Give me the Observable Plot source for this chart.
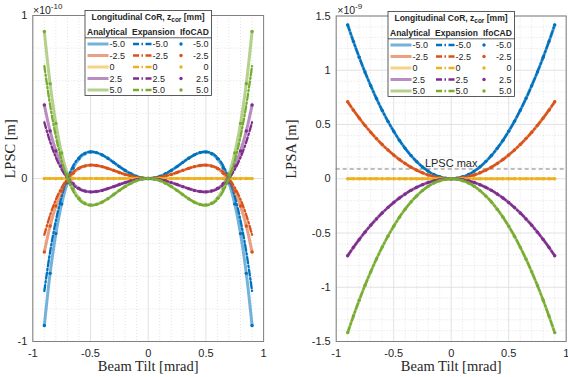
<!DOCTYPE html>
<html><head><meta charset="utf-8">
<script src="https://cdn.jsdelivr.net/npm/d3@7"></script>
<script src="https://cdn.jsdelivr.net/npm/@observablehq/plot@0.6"></script>
<style>
html,body{margin:0;padding:0;background:#fff;}
#wrap{position:relative;width:568px;height:377px;overflow:hidden;}
#wrap svg{position:absolute;top:0;overflow:visible;}
</style></head><body><div id="wrap"></div>
<script>
// Beam tilt [mrad]
const tilt = [-0.9,-0.85,-0.8,-0.75,-0.7,-0.65,-0.6,-0.55,-0.5,-0.45,-0.4,-0.35,-0.3,-0.25,-0.2,-0.15,-0.1,-0.05,0,0.05,0.1,0.15,0.2,0.25,0.3,0.35,0.4,0.45,0.5,0.55,0.6,0.65,0.7,0.75,0.8,0.85,0.9];
const zLabels = ["-5.0","-2.5","0","2.5","5.0"];
const zColors = ["#0072BD","#D95319","#EDB120","#7E2F8E","#77AC30"];
const xMajor = [-1,-0.5,0,0.5,1];
const xMinor = [-0.9,-0.8,-0.7,-0.6,-0.4,-0.3,-0.2,-0.1,0.1,0.2,0.3,0.4,0.6,0.7,0.8,0.9];
const lpscYMajor = [-1,0,1];
const lpscYMinor = [-0.8,-0.6,-0.4,-0.2,0.2,0.4,0.6,0.8];
const lpsaYMajor = [-1.5,-1,-0.5,0,0.5,1,1.5];
const lpsaYMinor = [-1.4,-1.3,-1.2,-1.1,-0.9,-0.8,-0.7,-0.6,-0.4,-0.3,-0.2,-0.1,0.1,0.2,0.3,0.4,0.6,0.7,0.8,0.9,1.1,1.2,1.3,1.4];
const lpscMax = 0.09; // in 1e-9 m

// LPSC [1e-10 m], analytical
const lpscAna_m50 = [-0.902,-0.582,-0.338,-0.156,-0.026,0.064,0.121,0.152,0.163,0.159,0.145,0.124,0.099,0.073,0.049,0.029,0.013,0.003,0,0.003,0.013,0.029,0.049,0.073,0.099,0.124,0.145,0.159,0.163,0.152,0.121,0.064,-0.026,-0.156,-0.338,-0.582,-0.902];
const lpscAna_m25 = [-0.451,-0.291,-0.169,-0.078,-0.013,0.032,0.061,0.076,0.082,0.080,0.073,0.062,0.050,0.037,0.025,0.015,0.007,0.002,0,0.002,0.007,0.015,0.025,0.037,0.050,0.062,0.073,0.080,0.082,0.076,0.061,0.032,-0.013,-0.078,-0.169,-0.291,-0.451];
const lpscAna_0 = [0,0,0,0,0,0,0,0,0,0,0,0,0,0,0,0,0,0,0,0,0,0,0,0,0,0,0,0,0,0,0,0,0,0,0,0,0];
const lpscAna_p25 = [0.451,0.291,0.169,0.078,0.013,-0.032,-0.061,-0.076,-0.082,-0.080,-0.073,-0.062,-0.050,-0.037,-0.025,-0.015,-0.007,-0.002,0,-0.002,-0.007,-0.015,-0.025,-0.037,-0.050,-0.062,-0.073,-0.080,-0.082,-0.076,-0.061,-0.032,0.013,0.078,0.169,0.291,0.451];
const lpscAna_p50 = [0.902,0.582,0.338,0.156,0.026,-0.064,-0.121,-0.152,-0.163,-0.159,-0.145,-0.124,-0.099,-0.073,-0.049,-0.029,-0.013,-0.003,0,-0.003,-0.013,-0.029,-0.049,-0.073,-0.099,-0.124,-0.145,-0.159,-0.163,-0.152,-0.121,-0.064,0.026,0.156,0.338,0.582,0.902];
// LPSC [1e-10 m], expansion
const lpscExp_m50 = [-0.690,-0.450,-0.258,-0.110,0,0.078,0.129,0.156,0.165,0.160,0.145,0.124,0.099,0.073,0.050,0.029,0.013,0.003,0,0.003,0.013,0.029,0.050,0.073,0.099,0.124,0.145,0.160,0.165,0.156,0.129,0.078,0,-0.110,-0.258,-0.450,-0.690];
const lpscExp_m25 = [-0.345,-0.225,-0.129,-0.055,0,0.039,0.065,0.078,0.083,0.080,0.073,0.062,0.050,0.037,0.025,0.015,0.007,0.002,0,0.002,0.007,0.015,0.025,0.037,0.050,0.062,0.073,0.080,0.083,0.078,0.065,0.039,0,-0.055,-0.129,-0.225,-0.345];
const lpscExp_0 = [0,0,0,0,0,0,0,0,0,0,0,0,0,0,0,0,0,0,0,0,0,0,0,0,0,0,0,0,0,0,0,0,0,0,0,0,0];
const lpscExp_p25 = [0.345,0.225,0.129,0.055,0,-0.039,-0.065,-0.078,-0.083,-0.080,-0.073,-0.062,-0.050,-0.037,-0.025,-0.015,-0.007,-0.002,0,-0.002,-0.007,-0.015,-0.025,-0.037,-0.050,-0.062,-0.073,-0.080,-0.083,-0.078,-0.065,-0.039,0,0.055,0.129,0.225,0.345];
const lpscExp_p50 = [0.690,0.450,0.258,0.110,0,-0.078,-0.129,-0.156,-0.165,-0.160,-0.145,-0.124,-0.099,-0.073,-0.050,-0.029,-0.013,-0.003,0,-0.003,-0.013,-0.029,-0.050,-0.073,-0.099,-0.124,-0.145,-0.160,-0.165,-0.156,-0.129,-0.078,0,0.110,0.258,0.450,0.690];
// LPSC [1e-10 m], IfoCAD (coincides with analytical)
const lpscIfo_m50 = lpscAna_m50, lpscIfo_m25 = lpscAna_m25, lpscIfo_0 = lpscAna_0, lpscIfo_p25 = lpscAna_p25, lpscIfo_p50 = lpscAna_p50;

// LPSA [1e-9 m], analytical
const lpsaAna_m50 = [1.418,1.264,1.120,0.984,0.858,0.739,0.630,0.529,0.438,0.354,0.280,0.214,0.158,0.109,0.070,0.039,0.018,0.004,0,0.004,0.018,0.039,0.070,0.109,0.158,0.214,0.280,0.354,0.438,0.529,0.630,0.739,0.858,0.984,1.120,1.264,1.418];
const lpsaAna_m25 = [0.709,0.632,0.560,0.492,0.429,0.370,0.315,0.265,0.219,0.177,0.140,0.107,0.079,0.055,0.035,0.020,0.009,0.002,0,0.002,0.009,0.020,0.035,0.055,0.079,0.107,0.140,0.177,0.219,0.265,0.315,0.370,0.429,0.492,0.560,0.632,0.709];
const lpsaAna_0 = [0,0,0,0,0,0,0,0,0,0,0,0,0,0,0,0,0,0,0,0,0,0,0,0,0,0,0,0,0,0,0,0,0,0,0,0,0];
const lpsaAna_p25 = [-0.709,-0.632,-0.560,-0.492,-0.429,-0.370,-0.315,-0.265,-0.219,-0.177,-0.140,-0.107,-0.079,-0.055,-0.035,-0.020,-0.009,-0.002,0,-0.002,-0.009,-0.020,-0.035,-0.055,-0.079,-0.107,-0.140,-0.177,-0.219,-0.265,-0.315,-0.370,-0.429,-0.492,-0.560,-0.632,-0.709];
const lpsaAna_p50 = [-1.418,-1.264,-1.120,-0.984,-0.858,-0.739,-0.630,-0.529,-0.438,-0.354,-0.280,-0.214,-0.158,-0.109,-0.070,-0.039,-0.018,-0.004,0,-0.004,-0.018,-0.039,-0.070,-0.109,-0.158,-0.214,-0.280,-0.354,-0.438,-0.529,-0.630,-0.739,-0.858,-0.984,-1.120,-1.264,-1.418];
// LPSA expansion and IfoCAD coincide with analytical
const lpsaExp_m50 = lpsaAna_m50, lpsaExp_m25 = lpsaAna_m25, lpsaExp_0 = lpsaAna_0, lpsaExp_p25 = lpsaAna_p25, lpsaExp_p50 = lpsaAna_p50;
const lpsaIfo_m50 = lpsaAna_m50, lpsaIfo_m25 = lpsaAna_m25, lpsaIfo_0 = lpsaAna_0, lpsaIfo_p25 = lpsaAna_p25, lpsaIfo_p50 = lpsaAna_p50;

const SANS = "'Liberation Sans', Arial, Helvetica, sans-serif";
const SERIF = "'Liberation Serif', 'Times New Roman', serif";
const TXT = "#262626";
const DASHDOT = "6,2.5,1.5,2.5";

function seriesMarks(ana, exp, ifo) {
  const marks = [];
  zLabels.forEach((z, i) => {
    const c = zColors[i];
    const rows = arr => tilt.map((x, j) => ({x, y: arr[j]}));
    marks.push(Plot.line(rows(ana[i]), {x: "x", y: "y", stroke: c, strokeOpacity: 0.55, strokeWidth: 3, curve: "catmull-rom"}));
    marks.push(Plot.line(rows(exp[i]), {x: "x", y: "y", stroke: c, strokeWidth: 2.3, strokeDasharray: DASHDOT, curve: "catmull-rom"}));
    marks.push(Plot.dot(rows(ifo[i]), {x: "x", y: "y", r: 1.7, fill: c}));
  });
  return marks;
}

function panel(o) {
  return Plot.plot({
    width: 284, height: 377,
    marginLeft: o.ml, marginRight: o.mr, marginTop: o.mt, marginBottom: 36,
    x: {domain: [-1, 1]},
    y: {domain: o.yDomain},
    style: {fontFamily: SANS, fontSize: "11px", color: TXT, background: "transparent"},
    marks: [
      Plot.gridX(xMinor, {stroke: "#cfcfcf", strokeOpacity: 1, strokeDasharray: "1,2", strokeWidth: 0.6}),
      Plot.gridY(o.yMinor, {stroke: "#cfcfcf", strokeOpacity: 1, strokeDasharray: "1,2", strokeWidth: 0.6}),
      Plot.gridX(xMajor, {stroke: "#e2e2e2", strokeOpacity: 1}),
      Plot.gridY(o.yMajor, {stroke: "#e2e2e2", strokeOpacity: 1}),
      Plot.axisX(xMajor, {tickSize: 0, tickPadding: 7.5, tickFormat: d => String(d), label: null, fill: TXT}),
      Plot.axisY(o.yMajor, {tickSize: 0, tickPadding: 5.5, tickFormat: d => String(d), label: null, fill: TXT}),
      Plot.frame({stroke: "#808080"}),
      ...(o.extra || []),
      ...o.series,
      Plot.text(["Beam Tilt [mrad]"], {frameAnchor: "bottom", dy: 29, fontFamily: SERIF, fontSize: 14.5, fill: TXT}),
      Plot.text([o.ylabel], {frameAnchor: "left", rotate: -90, dx: o.ylDx, fontFamily: SERIF, fontSize: 14.5, fill: TXT})
    ]
  });
}

function exponent(svg, x, e) {
  const t = svg.append("text").attr("x", x).attr("y", 13.5).attr("text-anchor", "start")
    .attr("font-family", SANS).attr("font-size", 10.5).attr("fill", TXT);
  t.append("tspan").text("\u00d710");
  t.append("tspan").attr("dy", -5).attr("font-size", 8).text(e);
}

function legend(svg, bx, by) {
  const g = svg.append("g").attr("font-family", SANS).attr("fill", TXT).attr("text-anchor", "start");
  g.append("rect").attr("x", bx).attr("y", by).attr("width", 126.5).attr("height", 85)
    .attr("fill", "white").attr("stroke", "#333").attr("stroke-width", 0.8);
  const t = g.append("text").attr("x", bx + 63).attr("y", by + 9.5).attr("text-anchor", "middle")
    .attr("font-weight", "bold").attr("font-size", 8.5);
  t.append("tspan").text("Longitudinal CoR, z");
  t.append("tspan").attr("font-size", 6.5).attr("dy", 2).text("cor");
  t.append("tspan").attr("dy", -2).text(" [mm]");
  const hy = by + 24;
  [["Analytical", 2], ["Expansion", 47], ["IfoCAD", 95]].forEach(([s, dx]) =>
    g.append("text").attr("x", bx + dx).attr("y", hy).attr("font-weight", "bold").attr("font-size", 8.5).text(s));
  g.append("line").attr("x1", bx).attr("x2", bx + 126.5).attr("y1", by + 27.3).attr("y2", by + 27.3)
    .attr("stroke", "#333").attr("stroke-width", 0.8);
  zLabels.forEach((z, i) => {
    const cy = by + 33.5 + i * 11.5;
    const c = zColors[i];
    g.append("line").attr("x1", bx + 2.5).attr("x2", bx + 23.5).attr("y1", cy).attr("y2", cy)
      .attr("stroke", c).attr("stroke-opacity", 0.55).attr("stroke-width", 3);
    g.append("text").attr("x", bx + 24.5).attr("y", cy + 3.2).attr("font-size", 9).text(z);
    g.append("line").attr("x1", bx + 48).attr("x2", bx + 67).attr("y1", cy).attr("y2", cy)
      .attr("stroke", c).attr("stroke-width", 2.3).attr("stroke-dasharray", DASHDOT);
    g.append("text").attr("x", bx + 67.5).attr("y", cy + 3.2).attr("font-size", 9).text(z);
    g.append("circle").attr("cx", bx + 96).attr("cy", cy).attr("r", 1.7).attr("fill", c);
    g.append("text").attr("x", bx + 123.5).attr("y", cy + 3.2).attr("text-anchor", "end").attr("font-size", 9).text(z);
  });
}

const wrap = document.getElementById("wrap");

const left = panel({
  ml: 32.3, mr: 20.9, mt: 15, yDomain: [-1, 1], yMajor: lpscYMajor, yMinor: lpscYMinor,
  ylabel: "LPSC [m]", ylDx: -22,
  series: seriesMarks(
    [lpscAna_m50, lpscAna_m25, lpscAna_0, lpscAna_p25, lpscAna_p50],
    [lpscExp_m50, lpscExp_m25, lpscExp_0, lpscExp_p25, lpscExp_p50],
    [lpscIfo_m50, lpscIfo_m25, lpscIfo_0, lpscIfo_p25, lpscIfo_p50])
});
left.style.left = "0px";
wrap.appendChild(left);

const right = panel({
  ml: 51.7, mr: 2.3, mt: 15.5, yDomain: [-1.5, 1.5], yMajor: lpsaYMajor, yMinor: lpsaYMinor,
  ylabel: "LPSA [m]", ylDx: -45,
  extra: [
    Plot.ruleY([lpscMax], {stroke: "#808080", strokeDasharray: "4,3", strokeWidth: 1}),
    Plot.text([lpscMax], {y: d => d, frameAnchor: "middle", text: () => "LPSC max", lineAnchor: "bottom", dy: -2, fontSize: 11, fill: TXT})
  ],
  series: seriesMarks(
    [lpsaAna_m50, lpsaAna_m25, lpsaAna_0, lpsaAna_p25, lpsaAna_p50],
    [lpsaExp_m50, lpsaExp_m25, lpsaExp_0, lpsaExp_p25, lpsaExp_p50],
    [lpsaIfo_m50, lpsaIfo_m25, lpsaIfo_0, lpsaIfo_p25, lpsaIfo_p50])
});
right.style.left = "284px";
wrap.appendChild(right);

const ls = d3.select(left), rs = d3.select(right);
exponent(ls, 33, "-10");
exponent(rs, 53.3, "-9");
legend(ls, 85, 10.5);
legend(rs, 104, 11.5);
</script></body></html>
